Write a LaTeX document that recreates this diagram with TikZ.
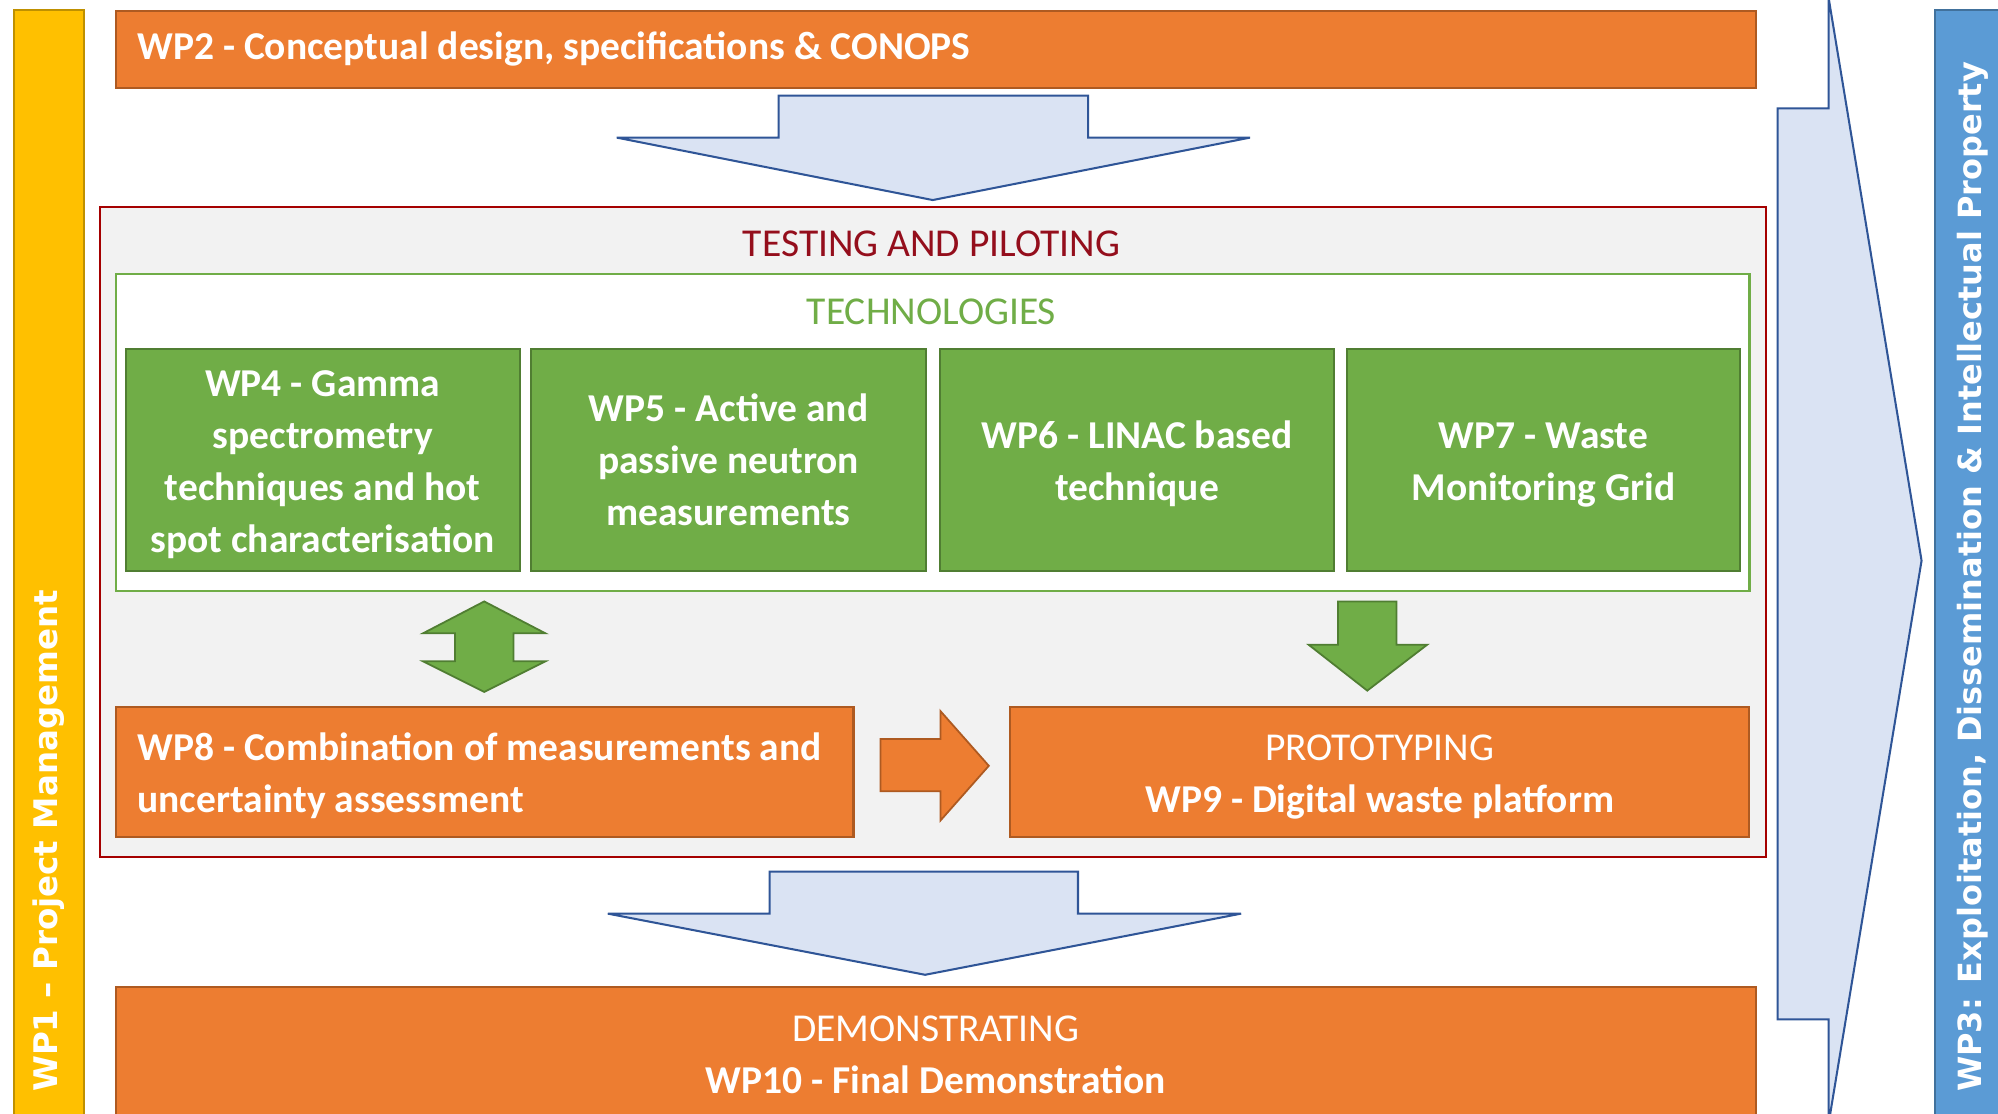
\documentclass[tikz,border=0pt]{standalone}
\usepackage{fontspec}
\setmainfont{Carlito}
\newfontfamily\sidefont{DejaVu Sans}
\definecolor{orgfill}{HTML}{ED7D31}
\definecolor{orgline}{HTML}{AE5A21}
\definecolor{grnfill}{HTML}{70AD47}
\definecolor{grnline}{HTML}{507E32}
\definecolor{yelfill}{HTML}{FFC000}
\definecolor{yelline}{HTML}{BF9000}
\definecolor{blufill}{HTML}{5B9BD5}
\definecolor{bluline}{HTML}{41719C}
\definecolor{arrfill}{HTML}{DAE3F3}
\definecolor{arrline}{HTML}{2F5597}
\definecolor{panelfill}{HTML}{F2F2F2}
\definecolor{panelline}{HTML}{A50000}
\definecolor{paneltext}{HTML}{940E1C}
% fixed word spacing used in the left-aligned orange boxes
\newcommand{\tightwords}{\spaceskip=0.225em\relax}
% tall strut on the first line so multi-line labels sit a little lower
\newcommand{\firstline}{\rule{0pt}{28pt}}
\begin{document}
\begin{tikzpicture}[x=1pt,y=-1pt,
  txt/.style={font=\fontsize{31}{41}\selectfont},
  box/.style={draw, line width=1.6pt, inner sep=0pt, anchor=north west, text=white,
    font=\fontsize{31}{41}\selectfont\bfseries},
  obox/.style={box, fill=orgfill, draw=orgline},
  gbox/.style={box, fill=grnfill, draw=grnline, align=center},
  blockarrow/.style={fill=arrfill, draw=arrline, line width=1.6pt, line join=miter},
  garrow/.style={fill=grnfill, draw=grnline, line width=1.4pt, line join=miter},
  oarrow/.style={fill=orgfill, draw=orgline, line width=1.4pt, line join=miter},
  sidetext/.style={rotate=90, anchor=west, inner sep=0pt, text=white,
    font=\sidefont\bfseries\fontsize{25.5}{30}\selectfont}
]
\useasboundingbox (0,0) rectangle (1568,874);
\clip (0,0) rectangle (1568,874);
\fill[white] (0,0) rectangle (1568,874);

% side bars
\node[box, fill=yelfill, draw=yelline, minimum width=55pt, minimum height=890pt] (wp1bar) at (10,7) {};
\node[sidetext] (wp1) at (38,857) {WP1 – Project Management};
\node[box, fill=blufill, draw=bluline, minimum width=70pt, minimum height=890pt] (wp3bar) at (1518,7) {};
\node[sidetext, font=\sidefont\bfseries\fontsize{25.1}{30}\selectfont] (wp3) at (1548,857)
  {WP3: Exploitation, Dissemination \& Intellectual Property};

% long arrow towards exploitation
\draw[blockarrow] (1395,85) -- (1435,85) -- (1435,-2) -- (1508,440) -- (1435,882)
  -- (1435,800) -- (1395,800) -- cycle;

% conceptual design
\node[obox, minimum width=1287pt, minimum height=60pt, text width=1253pt, inner xsep=17pt,
  align=left] (wp2) at (90,8)
  {\tightwords WP2 - Conceptual design, specifications \& CONOPS};

\draw[blockarrow] (611,75) -- (854,75) -- (854,108) -- (981,108) -- (732,157)
  -- (484,108) -- (611,108) -- cycle;

% testing and piloting panel
\node[box, fill=panelfill, draw=panelline, line width=1.6pt, minimum width=1307pt,
  minimum height=510pt] (panel) at (78,162) {};
\node[txt, text=paneltext] (paneltitle) at (731,191) {TESTING AND PILOTING};

\node[box, fill=white, draw=grnfill, line width=1.8pt, minimum width=1282pt,
  minimum height=249pt] (tech) at (90,214) {};
\node[txt, text=grnfill] (techtitle) at (731,245) {TECHNOLOGIES};

\node[gbox, minimum width=309pt, minimum height=174pt] (wp4) at (98,273)
  {\firstline WP4 - Gamma\\spectrometry\\techniques and hot\\spot characterisation};
\node[gbox, minimum width=310pt, minimum height=174pt] (wp5) at (416,273)
  {WP5 - Active and\\passive neutron\\measurements};
\node[gbox, minimum width=309pt, minimum height=174pt] (wp6) at (737,273)
  {\firstline WP6 - LINAC based\\technique};
\node[gbox, minimum width=309pt, minimum height=174pt] (wp7) at (1056,273)
  {\firstline WP7 - Waste\\Monitoring Grid};

% arrows inside the panel
\draw[garrow] (380,472) -- (428,497) -- (403,497) -- (403,519) -- (428,519) -- (380,543)
  -- (332,519) -- (357,519) -- (357,497) -- (332,497) -- cycle;
\draw[garrow] (1050,472) -- (1096,472) -- (1096,506) -- (1120,506) -- (1073,542)
  -- (1027,506) -- (1050,506) -- cycle;

\node[obox, minimum width=579pt, minimum height=102pt, text width=545pt, inner xsep=17pt,
  align=left] (wp8) at (90,554)
  {\firstline\tightwords\mbox{WP8 - Combination of measurements and}\\uncertainty assessment};
\draw[oarrow] (691,580) -- (738,580) -- (738,558) -- (776,601) -- (738,644)
  -- (738,621) -- (691,621) -- cycle;
\node[obox, minimum width=580pt, minimum height=102pt, align=center] (wp9) at (792,554)
  {\firstline{\mdseries PROTOTYPING}\\WP9 - Digital waste platform};

\draw[blockarrow] (604,684) -- (846,684) -- (846,717) -- (974,717) -- (726,765)
  -- (477,717) -- (604,717) -- cycle;

% demonstration
\node[obox, minimum width=1287pt, minimum height=106pt, align=center] (wp10) at (90,774)
  {{\mdseries DEMONSTRATING}\\WP10 - Final Demonstration};
\end{tikzpicture}
\end{document}
